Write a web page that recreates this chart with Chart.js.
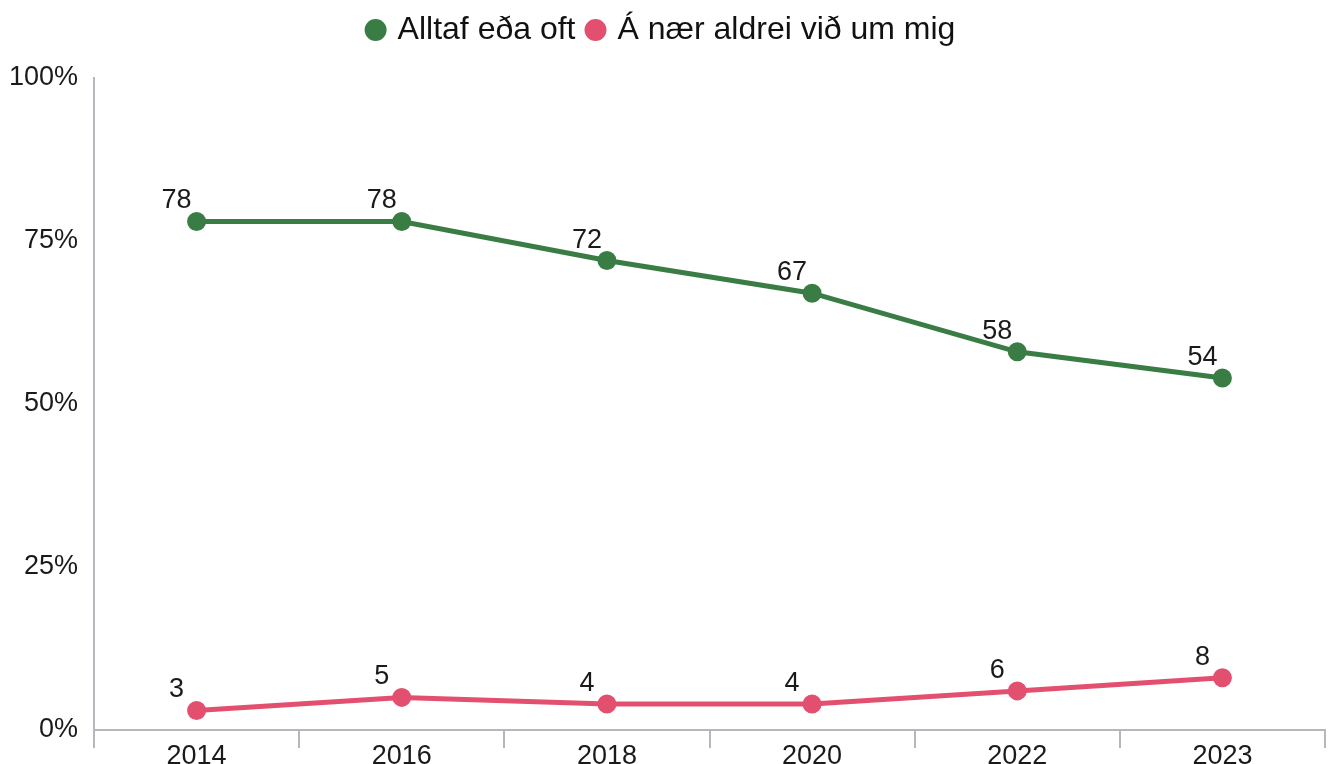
<!DOCTYPE html>
<html lang="is">
<head>
  <meta charset="UTF-8" />
  <title>Alltaf eða oft / Á nær aldrei við um mig</title>
  <script src="https://cdn.jsdelivr.net/npm/chart.js"></script>
  <style>
    html, body { margin: 0; padding: 0; background: #fff; overflow: hidden; }
    canvas { display: block; }
  </style>
</head>
<body>
  <canvas id="chart" width="1340" height="764"></canvas>

  <script>
    // chart data
    const years = ['2014', '2016', '2018', '2020', '2022', '2023'];
    const oftValues = [78, 78, 72, 67, 58, 54];
    const aldreiValues = [3, 5, 4, 4, 6, 8];
    const seriesNames = ['Alltaf eða oft', 'Á nær aldrei við um mig'];
    const yTicks = [0, 25, 50, 75, 100];

    const GREEN = '#3a7d44';
    const PINK = '#e3506f';
    const AXIS = '#b4b8bc';
    const FONT = '"Liberation Sans", Arial, sans-serif';

    // extra room under the legend
    const legendGap = {
      id: 'legendGap',
      beforeInit(chart) {
        const fit = chart.legend.fit;
        chart.legend.fit = function () {
          fit.call(this);
          this.height += 22;
        };
      }
    };

    // tick marks between the categories, hanging below the x axis
    const xTickMarks = {
      id: 'xTickMarks',
      afterDraw(chart) {
        const sx = chart.scales.x;
        const ctx = chart.ctx;
        const n = years.length;
        const step = (sx.right - sx.left) / n;
        ctx.save();
        ctx.strokeStyle = AXIS;
        ctx.lineWidth = 2;
        for (let i = 0; i <= n; i++) {
          const x = Math.round(sx.left + i * step);
          ctx.beginPath();
          ctx.moveTo(x, sx.top);
          ctx.lineTo(x, sx.top + 18);
          ctx.stroke();
        }
        ctx.restore();
      }
    };

    // numbers above each point, nudged left like the original
    const pointLabels = {
      id: 'pointLabels',
      afterDatasetsDraw(chart) {
        const ctx = chart.ctx;
        ctx.save();
        ctx.font = '27px ' + FONT;
        ctx.fillStyle = '#1a1a1a';
        ctx.textAlign = 'center';
        ctx.textBaseline = 'alphabetic';
        chart.data.datasets.forEach((ds, i) => {
          chart.getDatasetMeta(i).data.forEach((pt, j) => {
            ctx.fillText(ds.data[j], pt.x - 20, pt.y - 13);
          });
        });
        ctx.restore();
      }
    };

    new Chart(document.getElementById('chart'), {
      type: 'line',
      data: {
        labels: years,
        datasets: [
          {
            label: seriesNames[0],
            data: oftValues,
            borderColor: GREEN,
            backgroundColor: GREEN,
            borderWidth: 5,
            pointRadius: 7,
            pointHoverRadius: 7,
            tension: 0
          },
          {
            label: seriesNames[1],
            data: aldreiValues,
            borderColor: PINK,
            backgroundColor: PINK,
            borderWidth: 5,
            pointRadius: 7,
            pointHoverRadius: 7,
            tension: 0
          }
        ]
      },
      options: {
        responsive: false,
        animation: false,
        layout: { padding: { top: 0, right: 15, left: 0, bottom: 0 } },
        plugins: {
          tooltip: { enabled: false },
          legend: {
            position: 'top',
            labels: {
              font: { family: FONT, size: 32 },
              color: '#111',
              usePointStyle: true,
              pointStyle: 'circle',
              boxWidth: 12,
              boxHeight: 12,
              padding: 14
            }
          }
        },
        scales: {
          x: {
            offset: true,
            afterFit(axis) {
              axis.height = 34;
            },
            grid: { display: false, offset: true },
            border: { display: true, color: AXIS, width: 2 },
            ticks: {
              font: { family: FONT, size: 27 },
              color: '#1a1a1a',
              padding: 2
            }
          },
          y: {
            min: 0,
            max: 100,
            afterBuildTicks(axis) {
              axis.ticks = yTicks.map(v => ({ value: v }));
            },
            afterFit(axis) {
              axis.width = 94;
            },
            grid: { display: false, drawTicks: false },
            border: { display: true, color: AXIS, width: 2 },
            ticks: {
              font: { family: FONT, size: 27 },
              color: '#1a1a1a',
              padding: 16,
              callback: v => v + '%'
            }
          }
        }
      },
      plugins: [legendGap, xTickMarks, pointLabels]
    });
  </script>
</body>
</html>
